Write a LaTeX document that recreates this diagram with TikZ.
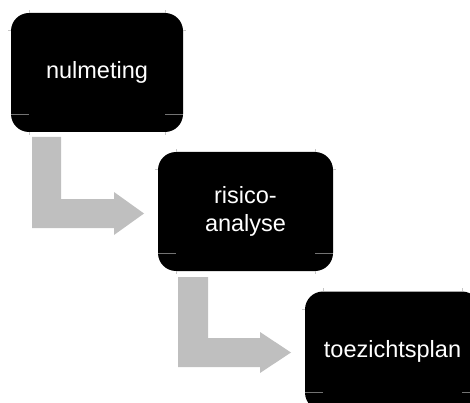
\documentclass[tikz,border=0pt]{standalone}
\usepackage{fontspec}
\setmainfont{Liberation Sans}
\usetikzlibrary{calc}
\definecolor{arrowgray}{HTML}{BFBFBF}
\tikzset{
  stepbox/.style={fill=black, draw=none, rounded corners=18pt, minimum width=173pt,
    minimum height=119pt, text=white, align=center, inner sep=0pt,
    font=\fontsize{23.5}{28.2}\selectfont},
  blockarrow/.style={fill=arrowgray, draw=none},
  guide/.style={draw=black!22, line width=0.6pt},
  guidein/.style={draw=black!55, line width=0.6pt}
}
\newcommand\boxguides[1]{%
  \draw[guide] ([xshift=18pt]#1.north west) -- ++(0pt,3pt);
  \draw[guide] ([xshift=-18pt]#1.north east) -- ++(0pt,3pt);
  \draw[guide] ([yshift=-18pt]#1.north west) -- ++(-3pt,0pt);
  \draw[guide] ([yshift=-18pt]#1.north east) -- ++(3pt,0pt);
  \draw[guide] ([xshift=18pt]#1.south west) -- ++(0pt,-3pt);
  \draw[guide] ([xshift=-18pt]#1.south east) -- ++(0pt,-3pt);
  \draw[guidein] ([yshift=18pt]#1.south west) -- ++(18pt,0pt);
  \draw[guidein] ([yshift=18pt]#1.south east) -- ++(-18pt,0pt);
}
\begin{document}
\begin{tikzpicture}[x=1pt, y=-1pt]
\useasboundingbox (0,0) rectangle (470,403);
\clip (0,0) rectangle (470,403);
\node[stepbox, minimum width=172pt] (n1) at (97,72.5) {nulmeting};
\node[stepbox, minimum width=175pt] (n2) at (245.5,211.5) {risico-\\analyse};
\node[stepbox, minimum width=175pt] (n3) at (392.5,351) {toezichtsplan};
\boxguides{n1}
\boxguides{n2}
\boxguides{n3}
% block arrows
\fill[blockarrow] (32,137) -- (61,137) -- (61,199) -- (114,199) -- (114,192)
  -- (144,213.5) -- (114,235) -- (114,228) -- (32,228) -- cycle;
\fill[blockarrow] (178,277) -- (208,277) -- (208,338) -- (260,338) -- (260,332)
  -- (291,352.5) -- (260,373) -- (260,367) -- (178,367) -- cycle;
\end{tikzpicture}
\end{document}
